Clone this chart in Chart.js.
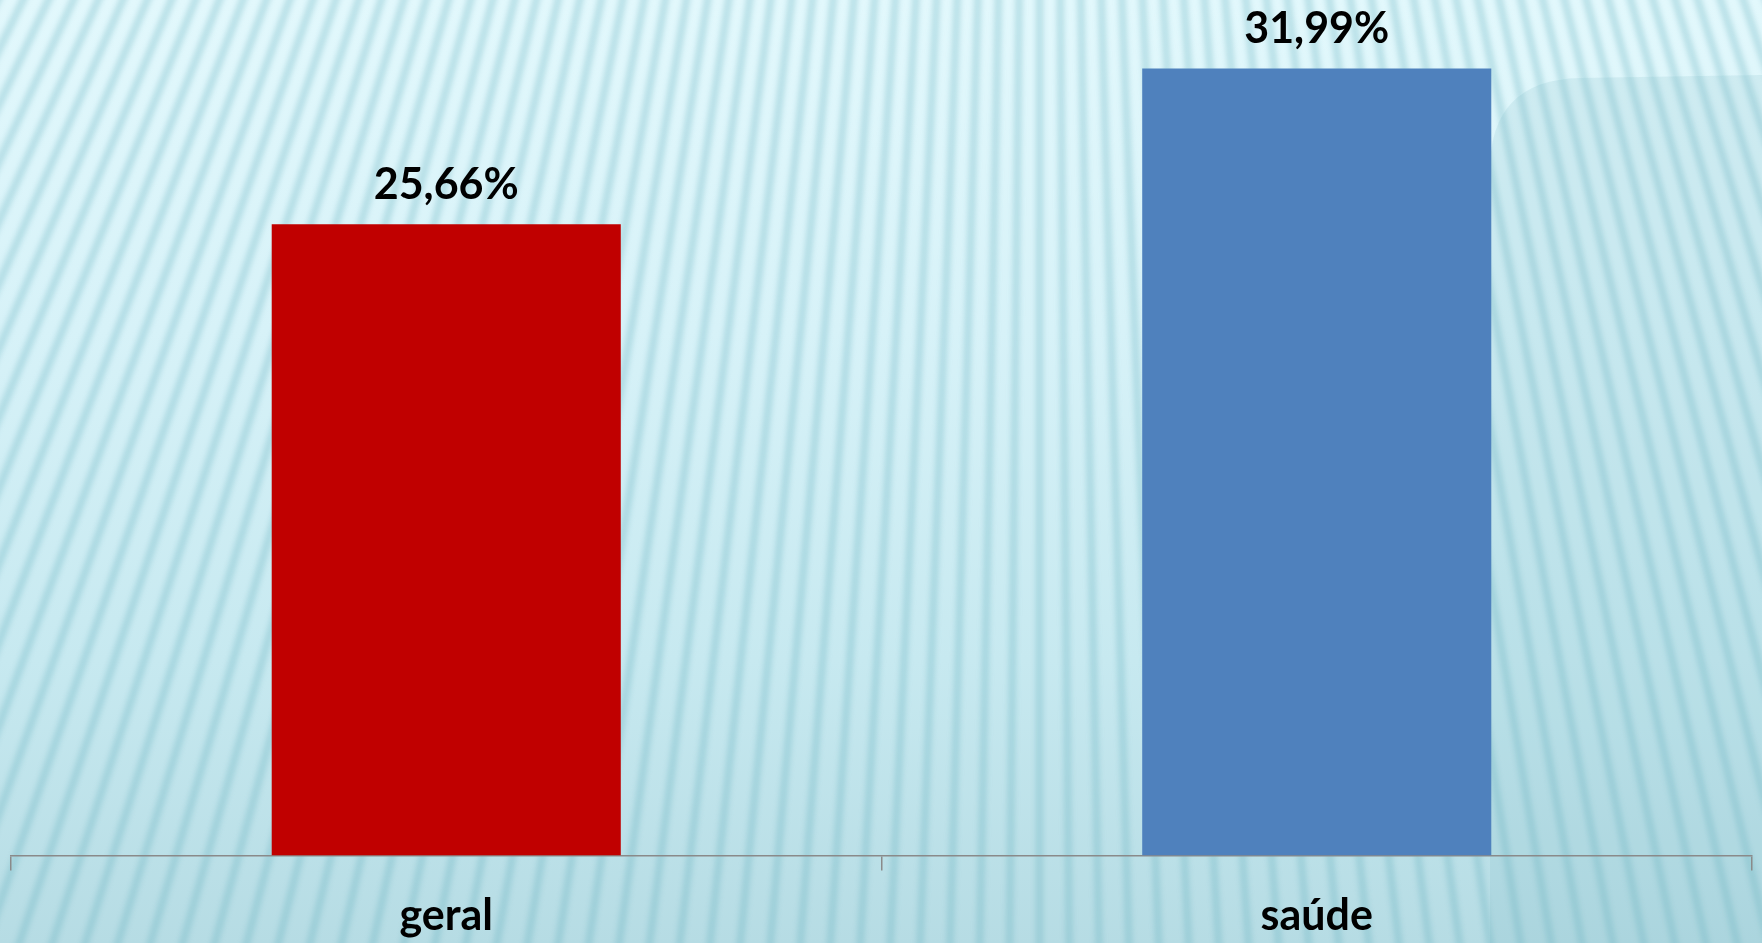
<!DOCTYPE html>
<html>
<head>
<meta charset="utf-8">
<script src="https://cdn.jsdelivr.net/npm/chart.js@4/dist/chart.umd.min.js"></script>
<style>
  html, body { margin: 0; padding: 0; overflow: hidden; background: #d6f1f7; }
  #wrap { position: absolute; left: 0; top: 0; width: 1762px; height: 943px; }
</style>
</head>
<body>
<div id="wrap"><canvas id="myChart" width="1762" height="943"></canvas></div>
<script>
// données
const categories = ["geral", "saúde"];
const valeurs = [25.66, 31.99];
const couleurs = ["#c00000", "#4f81bd"];

const data = {
  labels: categories,
  datasets: [
    {
      data: valeurs,
      backgroundColor: couleurs,
      borderWidth: 0,
      categoryPercentage: 1,
      barPercentage: 0.401,
    },
  ],
};

// fond dégradé avec rayures en éventail
const fond = {
  id: "fond",
  beforeDraw(chart) {
    const ctx = chart.ctx;
    const w = chart.width, h = chart.height;
    ctx.save();
    const g = ctx.createLinearGradient(0, 0, 0, h);
    g.addColorStop(0, "#e2f8fc");
    g.addColorStop(0.35, "#d7f2f8");
    g.addColorStop(0.7, "#c7e9f0");
    g.addColorStop(1, "#b6dce4");
    ctx.fillStyle = g;
    ctx.fillRect(0, 0, w, h);
    // rayures
    const cx = 1040, cy = -2100;
    ctx.filter = "blur(2.5px)";
    ctx.strokeStyle = "rgba(100, 176, 190, 0.3)";
    ctx.lineWidth = 8;
    for (let a = -0.5; a < 0.42; a += 0.0098) {
      ctx.beginPath();
      ctx.moveTo(cx, cy);
      ctx.lineTo(cx + 4000 * Math.sin(a), cy + 4000 * Math.cos(a));
      ctx.stroke();
    }
    ctx.filter = "none";
    // zone plus sombre à droite
    ctx.fillStyle = "rgba(120, 180, 192, 0.16)";
    ctx.beginPath();
    ctx.moveTo(1490, h);
    ctx.lineTo(1490, 170);
    ctx.quadraticCurveTo(1490, 80, 1580, 78);
    ctx.lineTo(w, 75);
    ctx.lineTo(w, h);
    ctx.closePath();
    ctx.fill();
    ctx.restore();
  },
};

// étiquettes au-dessus des barres
const etiquettes = {
  id: "etiquettes",
  afterDatasetsDraw(chart) {
    const ctx = chart.ctx;
    const meta = chart.getDatasetMeta(0);
    ctx.save();
    ctx.font = "bold 43px Lato";
    ctx.fillStyle = "#000000";
    ctx.textAlign = "center";
    ctx.textBaseline = "alphabetic";
    meta.data.forEach((bar, i) => {
      const texte = valeurs[i].toFixed(2).replace(".", ",") + "%";
      ctx.fillText(texte, bar.x, bar.y - 25);
    });
    ctx.restore();
  },
};

const config = {
  type: "bar",
  data: data,
  plugins: [fond, etiquettes],
  options: {
    responsive: false,
    animation: false,
    layout: {
      padding: { left: 11, right: 10, top: 19, bottom: -19 },
    },
    plugins: {
      legend: { display: false },
      tooltip: { enabled: false },
    },
    scales: {
      x: {
        offset: true,
        grid: {
          display: true,
          offset: true,
          drawOnChartArea: false,
          drawTicks: true,
          tickLength: 15,
          color: "#8a8a8a",
          lineWidth: 1.5,
        },
        border: { display: true, color: "#8a8a8a", width: 1.5 },
        ticks: {
          color: "#000000",
          padding: 20,
          font: { family: "Lato", size: 43, weight: "bold", lineHeight: 1.2 },
        },
      },
      y: {
        display: false,
        min: 0,
        max: 34,
      },
    },
  },
};

const context = document.getElementById("myChart").getContext("2d");
const chart = new Chart(context, config);
</script>
</body>
</html>
